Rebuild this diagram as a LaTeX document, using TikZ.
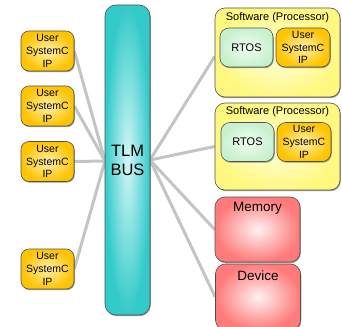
\documentclass[tikz,border=0pt]{standalone}
\usepackage{fontspec}
\setmainfont{Liberation Sans}
\usetikzlibrary{shadows,backgrounds}

\definecolor{busouter}{HTML}{33CACA}
\definecolor{businner}{HTML}{D4F6F6}
\definecolor{ipouter}{HTML}{FFC400}
\definecolor{ipinner}{HTML}{FFF0A8}
\definecolor{swouter}{HTML}{FFF880}
\definecolor{swinner}{HTML}{FFFFE4}
\definecolor{rtosouter}{HTML}{C8F0CE}
\definecolor{rtosinner}{HTML}{F0FFF2}
\definecolor{memouter}{HTML}{FF7A7A}
\definecolor{meminner}{HTML}{FFF2F2}
\definecolor{wire}{HTML}{C4C4C4}
\definecolor{edge}{HTML}{505050}

\tikzset{
  boxbase/.style={draw=edge, line width=0.6pt, inner sep=0pt, align=center,
    drop shadow={shadow xshift=0.8pt, shadow yshift=-1.2pt, opacity=0.55, fill=black!70}},
  ipbox/.style={boxbase, rounded corners=8pt, shading=radial,
    inner color=ipinner, outer color=ipouter,
    minimum width=53pt, minimum height=40pt,
    font=\fontsize{10.5}{12.8}\selectfont},
  busbox/.style={boxbase, rounded corners=11pt, shading=radial,
    inner color=businner, outer color=busouter,
    minimum width=45pt, minimum height=310pt,
    font=\fontsize{16.5}{19}\selectfont},
  swbox/.style={boxbase, rounded corners=10pt, shading=radial,
    inner color=swinner, outer color=swouter,
    minimum width=125pt},
  rtosbox/.style={boxbase, rounded corners=9pt, shading=radial,
    inner color=rtosinner, outer color=rtosouter,
    minimum width=53pt, minimum height=39pt,
    font=\fontsize{11}{12.8}\selectfont},
  innerip/.style={ipbox, minimum width=54pt, minimum height=39pt, rounded corners=9pt},
  hwbox/.style={boxbase, rounded corners=10pt, shading=radial,
    inner color=meminner, outer color=memouter,
    minimum width=85pt},
  titletext/.style={inner sep=0pt, font=\fontsize{11}{12}\selectfont},
  hwtext/.style={inner sep=0pt, font=\fontsize{13.5}{15}\selectfont},
  wireline/.style={draw=wire, line width=3pt}
}

\begin{document}
\begin{tikzpicture}[x=1pt,y=-1pt]
\useasboundingbox (0,0) rectangle (342,326);

% the bus
\node[busbox] (bus) at (127.5,160) {TLM\\BUS};
\coordinate (busL) at (105,161);
\coordinate (busR) at (150,160);

% user IP blocks on the left
\node[ipbox] (ip1) at (47.5,51) {User\\SystemC\\IP};
\node[ipbox] (ip2) at (47.5,106) {User\\SystemC\\IP};
\node[ipbox] (ip3) at (47.5,161.5) {User\\SystemC\\IP};
\node[ipbox] (ip4) at (47.5,269) {User\\SystemC\\IP};

% processors
\node[swbox, minimum height=89pt] (sw1) at (277.5,52.5) {};
\node[titletext] (sw1t) at (277.5,17.5) {Software (Processor)};
\node[rtosbox] (rtos1) at (246.5,47.5) {RTOS};
\node[innerip] (sip1) at (303,47.5) {User\\SystemC\\IP};

\node[swbox, minimum height=87pt] (sw2) at (277.5,146.5) {};
\node[titletext] (sw2t) at (277.5,112) {Software (Processor)};
\node[rtosbox] (rtos2) at (247.5,142) {RTOS};
\node[innerip] (sip2) at (304,142) {User\\SystemC\\IP};

% memory and device
\node[hwbox, minimum height=65pt] (mem) at (257.5,229.5) {};
\node[hwtext] (memt) at (257.5,208) {Memory};
\node[hwbox, minimum height=66pt] (dev) at (258,297) {};
\node[hwtext] (devt) at (258,276) {Device};

% bus connections
\begin{pgfonlayer}{background}
  \draw[wireline] (ip1.east) -- (busL);
  \draw[wireline] (ip2.east) -- (busL);
  \draw[wireline] (ip3.east) -- (busL);
  \draw[wireline] (ip4.east) -- (busL);
  \draw[wireline] (busR) -- ([yshift=-4pt]sw1.west);
  \draw[wireline] (busR) -- (sw2.west);
  \draw[wireline] (busR) -- (mem.west);
  \draw[wireline] (busR) -- (dev.west);
\end{pgfonlayer}
\end{tikzpicture}
\end{document}
